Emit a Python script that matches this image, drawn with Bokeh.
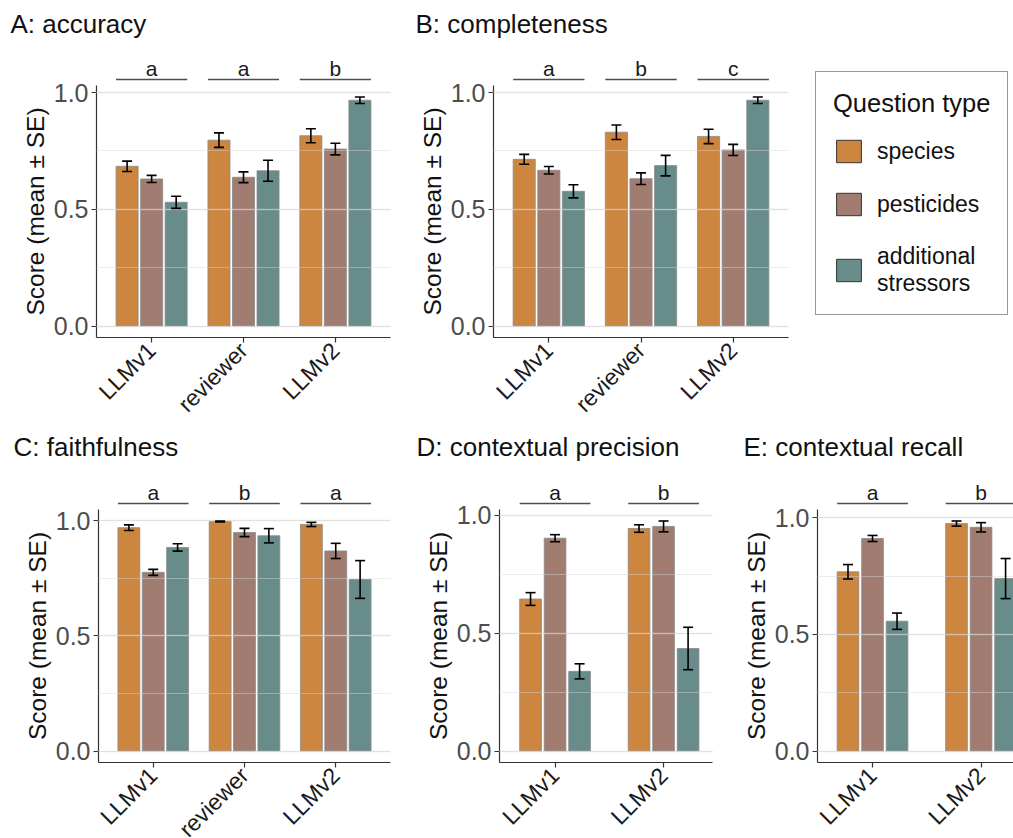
import math
from bokeh.plotting import figure
from bokeh.models import (ColumnDataSource, Range1d, FixedTicker, SingleIntervalTicker,
                          PrintfTickFormatter, Whisker, TeeHead, Label, Legend, LegendItem)
from bokeh.layouts import row, column
from bokeh.embed import file_html
from bokeh.resources import INLINE
from bokeh.core.properties import value

# ---------------- data ----------------
question_types = ["species", "pesticides", "additional stressors"]
legend_labels = ["species", "pesticides", "additional\nstressors"]
colors = ["#CD863F", "#A07C71", "#678C8A"]

groups_3 = ["LLMv1", "reviewer", "LLMv2"]
groups_2 = ["LLMv1", "LLMv2"]

# A: accuracy
acc_species = [0.684, 0.796, 0.815]
acc_pesticides = [0.630, 0.637, 0.758]
acc_stressors = [0.530, 0.665, 0.967]
acc_species_se = [0.022, 0.031, 0.030]
acc_pesticides_se = [0.015, 0.023, 0.025]
acc_stressors_se = [0.026, 0.045, 0.014]
acc_letters = ["a", "a", "b"]

# B: completeness
com_species = [0.714, 0.830, 0.812]
com_pesticides = [0.667, 0.631, 0.754]
com_stressors = [0.577, 0.687, 0.967]
com_species_se = [0.021, 0.031, 0.031]
com_pesticides_se = [0.016, 0.025, 0.024]
com_stressors_se = [0.028, 0.044, 0.014]
com_letters = ["a", "b", "c"]

# C: faithfulness
fai_species = [0.970, 0.997, 0.984]
fai_pesticides = [0.776, 0.949, 0.869]
fai_stressors = [0.884, 0.935, 0.745]
fai_species_se = [0.012, 0.002, 0.009]
fai_pesticides_se = [0.013, 0.018, 0.033]
fai_stressors_se = [0.016, 0.031, 0.082]
fai_letters = ["a", "b", "a"]

# D: contextual precision
pre_species = [0.645, 0.944]
pre_pesticides = [0.903, 0.953]
pre_stressors = [0.338, 0.435]
pre_species_se = [0.027, 0.016]
pre_pesticides_se = [0.015, 0.023]
pre_stressors_se = [0.032, 0.090]
pre_letters = ["a", "b"]

# E: contextual recall
rec_species = [0.769, 0.976]
rec_pesticides = [0.912, 0.960]
rec_stressors = [0.557, 0.740]
rec_species_se = [0.031, 0.011]
rec_pesticides_se = [0.013, 0.020]
rec_stressors_se = [0.035, 0.086]
rec_letters = ["a", "b"]

# ---------------- style / layout ----------------
FONT = "Liberation Sans"
ROW1 = dict(top=0, bottom=428, ptop=85, pbot=337, title_base=23)
ROW2 = dict(top=428, bottom=838, ptop=509, pbot=762, title_base=446.5)


def panel(title, groups, means, ses, letters, rw, left, right, fl, fr, x0, x1,
          dodge_w, bar_w, title_x):
    m = max(mv + sv for ms, ss in zip(means, ses) for mv, sv in zip(ms, ss))
    lo, hi = -0.05 * m, 1.05 * m
    ppu = (rw["pbot"] - rw["ptop"]) / (hi - lo)
    ppx = (fr - fl) / (x1 - x0)
    X0 = x0 - (fl - left) / ppx
    X1 = x1 + (right - fr) / ppx
    Y0 = lo - (rw["bottom"] - rw["pbot"]) / ppu
    Y1 = lo + (rw["pbot"] - rw["top"]) / ppu

    p = figure(width=int(right - left), height=int(rw["bottom"] - rw["top"]),
               x_range=Range1d(X0, X1), y_range=Range1d(Y0, Y1),
               min_border_left=0, min_border_right=0,
               min_border_top=0, min_border_bottom=0,
               toolbar_location=None, output_backend="svg", title=None)
    p.outline_line_color = None
    p.background_fill_color = "white"
    p.border_fill_color = "white"

    n = len(groups)
    centers = [i + 1 for i in range(n)]
    for j in range(3):
        off = (j - 1) * dodge_w
        src = ColumnDataSource(dict(
            x=[c + off for c in centers],
            top=means[j],
            upper=[a + b for a, b in zip(means[j], ses[j])],
            lower=[a - b for a, b in zip(means[j], ses[j])],
        ))
        p.vbar(x="x", top="top", bottom=0, width=bar_w, source=src,
               fill_color=colors[j], fill_alpha=1.0,
               line_color="#8A8A8A", line_width=1, line_alpha=0.8)
        wh = Whisker(source=src, base="x", upper="upper", lower="lower",
                     line_color="black", line_width=1.6, level="annotation",
                     upper_head=TeeHead(size=10, line_color="black", line_width=1.6),
                     lower_head=TeeHead(size=10, line_color="black", line_width=1.6))
        p.add_layout(wh)

    # significance lines and letters
    half = dodge_w + bar_w / 2
    y_line = hi + 6 / ppu
    y_let = hi + 17.5 / ppu
    sig = ColumnDataSource(dict(
        x0=[c - half for c in centers], x1=[c + half for c in centers],
        xc=centers, y=[y_line] * n, yt=[y_let] * n, txt=letters))
    p.segment(x0="x0", x1="x1", y0="y", y1="y", source=sig,
              line_color="#4D4D4D", line_width=1.6)
    p.text(x="xc", y="yt", text="txt", source=sig, text_align="center",
           text_baseline="alphabetic", text_font=value(FONT),
           text_font_size=value("21px"), text_color="#1A1A1A")

    # title
    tx = x0 + (title_x - fl) / ppx
    ty = lo + (rw["pbot"] - rw["title_base"]) / ppu
    p.add_layout(Label(x=tx, y=ty, text=title, text_font=FONT,
                       text_font_size="26px", text_baseline="alphabetic",
                       text_align="left", text_color="#111111"))

    # axes (drawn at the panel edges, inside the full-size frame)
    xa = p.xaxis[0]
    xa.ticker = FixedTicker(ticks=centers)
    xa.major_label_overrides = {c: g for c, g in zip(centers, groups)}
    xa.fixed_location = lo
    xa.bounds = (x0, x1)
    xa.major_label_orientation = math.pi / 4
    xa.major_label_text_font = FONT
    xa.major_label_text_font_size = "23px"
    xa.major_label_text_color = "#1A1A1A"
    xa.major_label_standoff = 4
    xa.axis_line_color = "#333333"
    xa.axis_line_width = 1.2
    xa.major_tick_line_color = "#333333"
    xa.major_tick_line_width = 1.2
    xa.major_tick_out = 5
    xa.major_tick_in = 0
    xa.minor_tick_line_color = None

    ya = p.yaxis[0]
    ya.ticker = SingleIntervalTicker(interval=0.5, num_minor_ticks=2)
    ya.formatter = PrintfTickFormatter(format="%.1f")
    ya.fixed_location = x0
    ya.bounds = (lo, hi)
    ya.axis_label = "Score (mean \u00b1 SE)"
    ya.axis_label_text_font = FONT
    ya.axis_label_text_font_size = "24.5px"
    ya.axis_label_text_font_style = "normal"
    ya.axis_label_text_color = "#111111"
    ya.axis_label_standoff = 2
    ya.major_label_text_font = FONT
    ya.major_label_text_font_size = "25px"
    ya.major_label_text_color = "#4D4D4D"
    ya.major_label_standoff = 3
    ya.axis_line_color = "#333333"
    ya.axis_line_width = 1.2
    ya.major_tick_line_color = "#333333"
    ya.major_tick_line_width = 1.2
    ya.major_tick_out = 5
    ya.major_tick_in = 0
    ya.minor_tick_line_color = None

    p.xgrid.visible = False
    g = p.ygrid[0]
    g.bounds = (lo, hi)
    try:
        g.cross_bounds = (x0, x1)
    except Exception:
        pass
    g.level = "guide"
    g.grid_line_color = "#D6D6D6"
    g.grid_line_alpha = 0.5
    g.grid_line_width = 1.3
    g.minor_grid_line_color = "#D6D6D6"
    g.minor_grid_line_alpha = 0.45
    g.minor_grid_line_width = 1.0
    return p


pA = panel("A: accuracy", groups_3,
           [acc_species, acc_pesticides, acc_stressors],
           [acc_species_se, acc_pesticides_se, acc_stressors_se], acc_letters,
           ROW1, 0, 400, 96, 390, 0.4, 3.6, 0.267, 0.24, 10)
pB = panel("B: completeness", groups_3,
           [com_species, com_pesticides, com_stressors],
           [com_species_se, com_pesticides_se, com_stressors_se], com_letters,
           ROW1, 400, 800, 493, 788, 0.4, 3.6, 0.267, 0.24, 415)
pC = panel("C: faithfulness", groups_3,
           [fai_species, fai_pesticides, fai_stressors],
           [fai_species_se, fai_pesticides_se, fai_stressors_se], fai_letters,
           ROW2, 0, 400, 98, 390, 0.4, 3.6, 0.267, 0.24, 13)
pD = panel("D: contextual precision", groups_2,
           [pre_species, pre_pesticides, pre_stressors],
           [pre_species_se, pre_pesticides_se, pre_stressors_se], pre_letters,
           ROW2, 400, 720, 499, 712, 0.488, 2.451, 0.226, 0.2, 416)
pE = panel("E: contextual recall", groups_2,
           [rec_species, rec_pesticides, rec_stressors],
           [rec_species_se, rec_pesticides_se, rec_stressors_se], rec_letters,
           ROW2, 720, 1013, 817, 1013, 0.493, 2.299, 0.226, 0.2, 743)

# legend panel
pL = figure(width=213, height=428, x_range=Range1d(0, 1), y_range=Range1d(0, 1),
            x_axis_type=None, y_axis_type=None, min_border_left=0,
            min_border_top=0, min_border_right=0, min_border_bottom=0,
            toolbar_location=None, output_backend="svg", title=None)
pL.outline_line_color = None
pL.grid.visible = False
items = []
for lab, c in zip(legend_labels, colors):
    r = pL.vbar(x=[-10], top=[-10], width=0.5, fill_color=c, line_color="#333333",
                line_width=1)
    items.append(LegendItem(label=lab, renderers=[r]))
leg = Legend(items=items, location=(15, 113), margin=0, padding=17,
             title="Question type", title_text_font=FONT,
             title_text_font_size="25.5px", title_text_font_style="normal",
             title_text_color="#111111", title_standoff=19,
             label_text_font=FONT, label_text_font_size="23px",
             label_text_color="#111111", label_standoff=13,
             glyph_width=31, glyph_height=28, spacing=25,
             border_line_color="#333333", border_line_width=1,
             background_fill_color="white", background_fill_alpha=1)
pL.add_layout(leg)

layout = column(row(pA, pB, pL), row(pC, pD, pE))
open("out.html", "w").write(file_html(layout, INLINE))
